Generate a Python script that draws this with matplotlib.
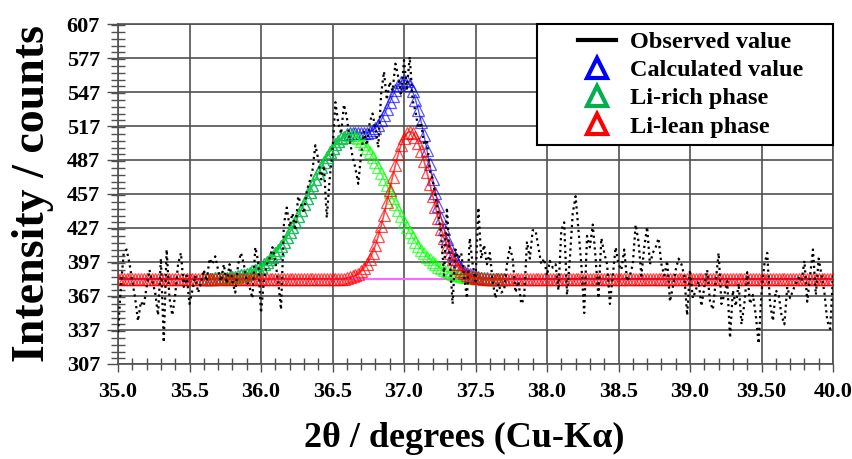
import numpy as np
import matplotlib
matplotlib.use('Agg')
import matplotlib.pyplot as plt
from matplotlib.lines import Line2D
from matplotlib.legend_handler import HandlerLine2D
from matplotlib.ticker import MultipleLocator

plt.rcParams['font.family'] = ['Liberation Serif', 'DejaVu Serif']

# scan: 2theta step 0.02 deg
two_theta = np.round(np.arange(35.00, 40.001, 0.02), 2)
observed = [
    335, 375, 405, 408, 396, 380, 365, 345, 362, 358,   # 35.00
    375, 390, 380, 370, 350, 400, 326, 408, 365, 350,   # 35.20
    368, 395, 405, 375, 385, 360, 372, 385, 370, 378,   # 35.40
    390, 380, 400, 395, 402, 390, 380, 395, 378, 395,   # 35.60
    380, 370, 395, 405, 395, 380, 375, 365, 410, 398,   # 35.80
    352, 380, 395, 400, 410, 398, 380, 355, 430, 445,   # 36.00
    428, 440, 425, 455, 448, 440, 460, 468, 478, 500,   # 36.20
    488, 470, 482, 436, 470, 495, 538, 520, 510, 536,   # 36.40
    525, 505, 490, 480, 466, 492, 512, 500, 520, 528,   # 36.60
    515, 498, 545, 565, 540, 556, 548, 572, 560, 545,   # 36.80
    575, 550, 578, 540, 530, 515, 520, 500, 505, 478,   # 37.00
    470, 455, 440, 420, 385, 445, 400, 360, 408, 400,   # 37.20
    405, 385, 365, 418, 395, 380, 445, 400, 412, 395,   # 37.40
    405, 380, 365, 378, 370, 372, 395, 410, 400, 370,   # 37.60
    380, 360, 365, 415, 400, 425, 425, 410, 395, 400,   # 37.80
    385, 398, 392, 395, 372, 425, 432, 368, 400, 440,   # 38.00
    455, 425, 395, 352, 420, 410, 430, 400, 365, 418,   # 38.20
    405, 395, 360, 385, 410, 395, 390, 408, 380, 385,   # 38.40
    395, 430, 415, 385, 410, 428, 395, 405, 410, 418,   # 38.60
    395, 385, 398, 362, 375, 390, 400, 395, 385, 350,   # 38.80
    390, 365, 372, 380, 358, 375, 390, 362, 355, 380,   # 39.00
    405, 360, 368, 380, 330, 372, 358, 378, 342, 360,   # 39.20
    388, 360, 368, 350, 325, 370, 395, 405, 360, 345,   # 39.40
    372, 368, 350, 342, 375, 365, 372, 378, 383, 380,   # 39.60
    398, 362, 385, 408, 368, 400, 385, 370, 345, 338,   # 39.80
    385]

# fitted profiles, 35.60 - 37.70
fit_x = np.round(np.arange(35.60, 37.701, 0.02), 2)
li_rich = [
    382.2, 382.2, 382.3, 382.4, 382.5, 382.6, 382.7, 382.9, 383.1, 383.4,
    383.7, 384.1, 384.6, 385.2, 385.9, 386.7, 387.6, 388.7, 389.9, 391.3,
    392.9, 394.8, 396.9, 399.2, 401.8, 404.6, 407.8, 411.2, 414.9, 418.9,
    423.2, 427.8, 432.6, 437.6, 442.8, 448.1, 453.5, 459.0, 464.5, 470.0,
    475.3, 480.4, 485.3, 489.9, 494.1, 497.9, 501.2, 503.9, 506.1, 507.7,
    508.7, 509.0, 508.7, 507.7, 506.1, 503.9, 501.2, 497.9, 494.1, 489.9,
    485.3, 480.4, 475.3, 470.0, 464.5, 459.0, 453.5, 448.1, 442.8, 437.6,
    432.6, 427.8, 423.2, 418.9, 414.9, 411.2, 407.8, 404.6, 401.8, 399.2,
    396.9, 394.8, 392.9, 391.3, 389.9, 388.7, 387.6, 386.7, 385.9, 385.2,
    384.6, 384.1, 383.7, 383.4, 383.1, 382.9, 382.7, 382.6, 382.5, 382.4,
    382.3, 382.2, 382.2, 382.1, 382.1, 382.1]
li_lean = [
    382.0, 382.0, 382.0, 382.0, 382.0, 382.0, 382.0, 382.0, 382.0, 382.0,
    382.0, 382.0, 382.0, 382.0, 382.0, 382.0, 382.0, 382.0, 382.0, 382.0,
    382.0, 382.0, 382.0, 382.0, 382.0, 382.0, 382.0, 382.0, 382.0, 382.0,
    382.0, 382.0, 382.0, 382.0, 382.0, 382.0, 382.0, 382.0, 382.0, 382.0,
    382.0, 382.0, 382.0, 382.0, 382.0, 382.0, 382.0, 382.0, 382.0, 382.0,
    382.9, 383.4, 384.2, 385.3, 386.8, 388.8, 391.5, 395.1, 399.6, 405.2,
    411.9, 419.8, 428.9, 438.9, 449.7, 460.8, 472.0, 482.7, 492.4, 500.6,
    506.8, 510.7, 512.0, 510.8, 507.4, 502.0, 494.8, 486.1, 476.4, 466.1,
    455.6, 445.3, 435.4, 426.3, 418.1, 411.0, 404.8, 399.6, 395.4, 392.0,
    389.3, 387.3, 385.7, 384.6, 383.8, 383.2, 382.8, 382.5, 382.3, 382.2,
    382.1, 382.0, 382.0, 382.0, 382.0, 382.0]
calculated = [
    382.2, 382.2, 382.3, 382.4, 382.5, 382.6, 382.7, 382.9, 383.1, 383.4,
    383.7, 384.1, 384.6, 385.2, 385.9, 386.7, 387.6, 388.7, 389.9, 391.3,
    392.9, 394.8, 396.9, 399.2, 401.8, 404.6, 407.8, 411.2, 414.9, 418.9,
    423.2, 427.8, 432.6, 437.6, 442.8, 448.1, 453.5, 459.0, 464.5, 470.0,
    475.3, 480.4, 485.3, 489.9, 494.1, 497.9, 501.2, 503.9, 506.1, 507.7,
    509.6, 510.4, 510.9, 511.0, 510.9, 510.7, 510.7, 511.0, 511.7, 513.1,
    515.2, 518.2, 522.2, 526.9, 532.2, 537.8, 543.5, 548.8, 553.2, 556.2,
    557.4, 556.5, 553.2, 547.7, 540.3, 531.2, 520.6, 508.7, 496.2, 483.3,
    470.5, 458.1, 446.3, 435.6, 426.0, 417.7, 410.4, 404.3, 399.3, 395.2,
    391.9, 389.4, 387.4, 386.0, 384.9, 384.1, 383.5, 383.1, 382.8, 382.6,
    382.4, 382.2, 382.2, 382.1, 382.1, 382.1]

# flat background outside the fitted window
baseline = 382
tail_left = np.round(np.arange(35.00, 35.59, 0.02), 2)
tail_right = np.round(np.arange(37.72, 40.001, 0.02), 2)

x_ticks = [35.0, 35.5, 36.0, 36.5, 37.0, 37.5, 38.0, 38.5, 39.0, 39.5, 40.0]
x_labels = ['35.0', '35.5', '36.0', '36.5', '37.0', '37.5', '38.0', '38.5', '39.0', '39.50', '40.0']
y_ticks = [307, 337, 367, 397, 427, 457, 487, 517, 547, 577, 607]


def with_tails(y):
    xs = np.concatenate([tail_left, fit_x, tail_right])
    ys = np.concatenate([np.full(len(tail_left), baseline), y, np.full(len(tail_right), baseline)])
    return xs, ys


fig = plt.figure(figsize=(8.52, 4.59), dpi=100)
ax = fig.add_axes([0.1385, 0.207, 0.8392, 0.7407])

ax.plot([35.0, 40.0], [baseline, baseline], color='#ff66ff', lw=1.5, zorder=2)

mk = dict(marker='^', mfc='none', ms=8, mew=0.9)
# calculated: markers only inside the fit window, line all along
xs, ys = with_tails(calculated)
window = slice(len(tail_left), len(tail_left) + len(fit_x))
ax.plot(xs, ys, color='#0000ff', lw=1.0, zorder=3, alpha=0.65, markevery=window, **mk)
ax.plot(fit_x, li_rich, color='#00ff00', lw=1.0, zorder=4, alpha=0.65, **mk)
xs, ys = with_tails(li_lean)
ax.plot(xs, ys, color='#ff0000', lw=1.2, zorder=5, alpha=0.7, **mk)

ax.plot(two_theta, observed, color='black', ls=':', lw=1.6, zorder=6)

ax.set_xlim(35.0, 40.0)
ax.set_ylim(307, 607)
ax.set_xticks(x_ticks)
ax.set_xticklabels(x_labels, fontweight='bold', fontsize=16)
ax.set_yticks(y_ticks)
ax.set_yticklabels([str(v) for v in y_ticks], fontweight='bold', fontsize=16)
ax.xaxis.set_minor_locator(MultipleLocator(0.1))
ax.yaxis.set_minor_locator(MultipleLocator(6))

ax.tick_params(axis='x', which='major', direction='out', length=6, width=1, pad=7, color='#505050')
ax.tick_params(axis='x', which='minor', direction='inout', length=8, width=1, color='#505050')
ax.tick_params(axis='y', which='major', direction='out', length=8, width=1, pad=5, color='#505050')
ax.tick_params(axis='y', which='minor', direction='inout', length=10, width=1, color='#505050')

ax.grid(True, which='major', color='#505050', lw=1.2)
ax.set_axisbelow(True)
for sp in ax.spines.values():
    sp.set_color('#505050')
    sp.set_linewidth(1.2)

ax.set_ylabel('Intensity / counts', fontsize=33, fontweight='bold')
ax.yaxis.set_label_coords(-0.09, 0.5)
ax.set_xlabel('2θ / degrees (Cu-Kα)', fontsize=26, fontweight='bold')
ax.xaxis.set_label_coords(0.484, -0.171)
ax.xaxis.label.set_va('top')

# legend
h_obs = Line2D([], [], color='black', lw=3)
h_calc = Line2D([], [], ls='none', marker='^', mfc='none', mec='#0000ff', ms=15, mew=3)
h_rich = Line2D([], [], ls='none', marker='^', mfc='none', mec='#00b050', ms=15, mew=3)
h_lean = Line2D([], [], ls='none', marker='^', mfc='none', mec='#ff0000', ms=15, mew=3)
leg = ax.legend([h_obs, h_calc, h_rich, h_lean],
                ['Observed value', 'Calculated value', 'Li-rich phase', 'Li-lean phase'],
                loc='upper left', bbox_to_anchor=(0.586, 0.0, 0.414, 1.0), mode='expand',
                borderaxespad=0, fancybox=False, edgecolor='black', framealpha=1,
                prop=dict(family='Liberation Serif', weight='bold', size=17.5),
                handlelength=2.95, handletextpad=0.58, borderpad=0.3, labelspacing=0.25,
                handler_map={Line2D: HandlerLine2D(xpad=1.4)})
leg.get_frame().set_linewidth(1.5)
leg.set_zorder(10)

fig.savefig('out.png', dpi=100)
